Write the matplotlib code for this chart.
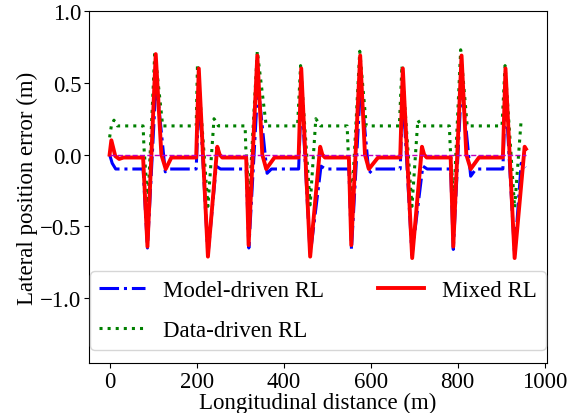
import numpy as np
import matplotlib
matplotlib.use("Agg")
import matplotlib.pyplot as plt

plt.rcParams['font.family'] = ['Liberation Serif', 'DejaVu Serif']
plt.rcParams['font.size'] = 16.5
plt.rcParams['mathtext.fontset'] = 'stix'

# Model-driven RL (blue dash-dot)
model_x = [0, 6, 14, 77, 87, 107, 128, 138,
           199, 206, 226, 245, 255,
           314, 320, 341, 362, 372,
           434.5, 441, 461, 486, 496,
           550, 556, 577, 596, 606,
           668, 674, 695, 720, 730,
           784, 790, 809, 830, 842,
           904, 910, 931, 946, 956]
model_y = [0, -0.06, -0.1, -0.1, -0.65, 0.52, -0.12, -0.1,
           -0.1, 0.44, -0.70, -0.08, -0.1,
           -0.1, -0.65, 0.49, -0.13, -0.1,
           -0.1, 0.44, -0.70, -0.08, -0.1,
           -0.1, -0.66, 0.49, -0.13, -0.1,
           -0.1, 0.44, -0.70, -0.08, -0.1,
           -0.1, -0.66, 0.50, -0.15, -0.1,
           -0.1, 0.44, -0.70, -0.06, -0.09]

# Data-driven RL (green dotted)
data_x = [0, 4, 10, 18, 77, 79, 88, 104, 122,
          199, 202, 226, 240, 250,
          311.5, 313, 321, 339.5, 360,
          432, 439, 461, 474, 485,
          546, 548, 557, 575, 590,
          666, 672, 695, 708.5, 717,
          781, 783, 791, 807, 822,
          902, 909, 931, 946]
data_y = [0.12, 0.2, 0.24, 0.2, 0.2, 0.05, -0.34, 0.72, 0.2,
          0.2, 0.63, -0.36, 0.25, 0.2,
          0.2, 0.05, -0.30, 0.72, 0.2,
          0.2, 0.62, -0.35, 0.25, 0.2,
          0.2, 0.05, -0.32, 0.72, 0.2,
          0.2, 0.62, -0.36, 0.24, 0.2,
          0.2, 0.05, -0.32, 0.73, 0.2,
          0.2, 0.62, -0.37, 0.24]

# Mixed RL (red solid)
mixed_x = [0, 4, 13, 22, 32, 77, 87, 106, 119, 129, 142,
           199, 205, 226, 247.5, 253, 259,
           314, 319.5, 339.5, 351, 360, 379,
           434.5, 440.5, 461, 484, 489, 495,
           550, 555.5, 576, 587, 596, 617,
           668, 674, 695.5, 718, 723, 729,
           784, 790, 809, 820, 830, 849,
           904, 910, 931, 954, 957]
mixed_y = [0, 0.10, -0.01, -0.03, -0.02, -0.02, -0.64, 0.70, 0.0, -0.10, -0.02,
           -0.02, 0.60, -0.71, 0.055, 0.0, -0.02,
           -0.02, -0.63, 0.69, 0.0, -0.10, -0.02,
           -0.02, 0.60, -0.71, 0.055, 0.0, -0.02,
           -0.02, -0.63, 0.69, 0.0, -0.10, -0.02,
           -0.02, 0.60, -0.72, 0.055, 0.0, -0.02,
           -0.02, -0.64, 0.69, 0.0, -0.10, -0.02,
           -0.02, 0.60, -0.72, 0.055, 0.04]

ref_x = [0, 958]
ref_y = [0, 0]

fig = plt.figure(figsize=(5.84, 4.14), dpi=100)
ax = fig.add_subplot(111)
fig.subplots_adjust(left=0.152, right=0.937, top=0.971, bottom=0.121)

ax.plot(model_x, model_y, 'b-.', lw=2.2, label='Model-driven RL')
ax.plot(data_x, data_y, 'g:', lw=2.2, label='Data-driven RL')
ax.plot(mixed_x, mixed_y, 'r-', lw=2.8, label='Mixed RL')
ax.plot(ref_x, ref_y, 'm--', lw=1)

ax.set_ylim(-1.45, 1.0)
ax.set_yticks([-1.0, -0.5, 0.0, 0.5, 1.0])
ax.set_xticks([0, 200, 400, 600, 800, 1000])
ax.tick_params(axis='x', pad=2)
ax.tick_params(axis='y', pad=2)
ax.set_xlabel('Longitudinal distance (m)', labelpad=0)
ax.set_ylabel('Lateral position error (m)', labelpad=1)

ax.legend(loc='lower left', bbox_to_anchor=(0.003, 0.037, 0.994, 0.224),
          mode='expand', ncol=2, borderaxespad=0, labelspacing=0.8)

fig.savefig('out.png', dpi=100)
